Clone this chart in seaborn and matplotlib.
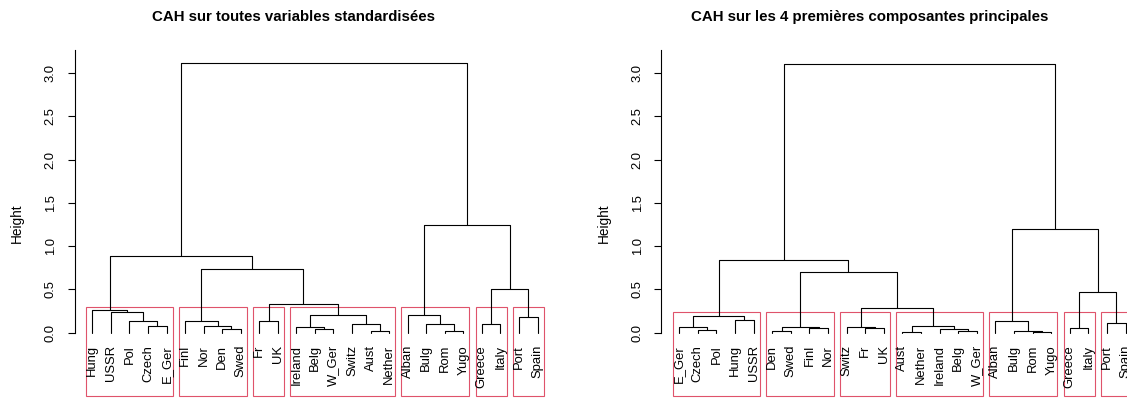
import matplotlib
matplotlib.use("Agg")
import matplotlib.pyplot as plt
import seaborn as sns
import pandas as pd
from matplotlib.patches import Rectangle

# ---------------- data ----------------
title_left = "CAH sur toutes variables standardisées"
title_right = "CAH sur les 4 premières composantes principales"
y_label = "Height"

leaves_left = ["Hung", "USSR", "Pol", "Czech", "E_Ger", "Finl", "Nor", "Den", "Swed",
               "Fr", "UK", "Ireland", "Belg", "W_Ger", "Switz", "Aust", "Nether",
               "Alban", "Bulg", "Rom", "Yugo", "Greece", "Italy", "Port", "Spain"]
# merges: child a, child b (leaf name or index of earlier merge), height
merge_a_left = ["Czech", "Pol", "USSR", "Hung", "Den", "Nor", "Finl", "Fr", "Belg", "Ireland",
                "Aust", "Switz", 9, 7, 6, 3, "Rom", "Bulg", "Alban", "Greece", "Port", 19, 18, 15]
merge_b_left = ["E_Ger", 0, 1, 2, "Swed", 4, 5, "UK", "W_Ger", 8,
                "Nether", 10, 11, 12, 13, 14, "Yugo", 16, 17, "Italy", "Spain", 20, 21, 22]
height_left = [0.077, 0.135, 0.235, 0.26, 0.043, 0.077, 0.135, 0.135, 0.043, 0.068,
               0.025, 0.10, 0.205, 0.33, 0.74, 0.89, 0.016, 0.097, 0.21, 0.097, 0.178,
               0.51, 1.245, 3.115]

leaves_right = ["E_Ger", "Czech", "Pol", "Hung", "USSR", "Den", "Swed", "Finl", "Nor",
                "Switz", "Fr", "UK", "Aust", "Nether", "Ireland", "Belg", "W_Ger",
                "Alban", "Bulg", "Rom", "Yugo", "Greece", "Italy", "Port", "Spain"]
merge_a_right = ["Czech", "E_Ger", "Hung", 1, "Den", "Finl", 4, "Fr", "Switz", "Aust",
                 "Belg", "Ireland", 9, 8, 6, 3, "Rom", "Bulg", "Alban", "Greece", "Port", 19, 18, 15]
merge_b_right = ["Pol", 0, "USSR", 2, "Swed", "Nor", 5, "UK", 7, "Nether",
                 "W_Ger", 10, 11, 12, 13, 14, "Yugo", 16, 17, "Italy", "Spain", 20, 21, 22]
height_right = [0.035, 0.062, 0.143, 0.19, 0.025, 0.05, 0.065, 0.05, 0.062, 0.008,
                0.02, 0.04, 0.077, 0.29, 0.70, 0.84, 0.012, 0.02, 0.135, 0.05, 0.108,
                0.465, 1.20, 3.11]

y_ticks = [0.0, 0.5, 1.0, 1.5, 2.0, 2.5, 3.0]
y_tick_labels = ["0.0", "0.5", "1.0", "1.5", "2.0", "2.5", "3.0"]
n_clusters = 7

# ---------------- style ----------------
sns.set_style("white")
plt.rcParams["font.family"] = ["Liberation Sans", "DejaVu Sans"]
plt.rcParams["text.color"] = "black"
plt.rcParams["axes.labelcolor"] = "black"
plt.rcParams["ytick.color"] = "black"

W, H = 1127, 398
fig = plt.figure(figsize=(W / 100, H / 100), dpi=100)
fig.patch.set_facecolor("white")

RECT_COLOR = "#DF536B"
Y_TOP = 3.268
Y_BOT = -0.732


def build(leaves, ma, mb, hh):
    pos = {name: i + 1 for i, name in enumerate(leaves)}
    nodes = []       # (x, h, leaf list)
    rows = []

    def child(c):
        if isinstance(c, str):
            return pos[c], 0.0, [c]
        return nodes[c]

    for i, (a, b, h) in enumerate(zip(ma, mb, hh)):
        xa, ya, la = child(a)
        xb, yb, lb = child(b)
        for k, (x, y) in enumerate([(xa, ya), (xa, h), (xb, h), (xb, yb)]):
            rows.append({"x": x, "y": y, "seg": i, "ord": k})
        nodes.append(((xa + xb) / 2, h, la + lb))
    return pd.DataFrame(rows), nodes, pos


def clusters(ma, mb, hh, nodes, pos, k):
    srt = sorted(hh)
    cut = (srt[-(k - 1)] + srt[-k]) / 2
    out = []
    for a, b, h in zip(ma, mb, hh):
        if h > cut:
            for c in (a, b):
                if isinstance(c, str):
                    out.append([c])
                elif nodes[c][1] < cut:
                    out.append(nodes[c][2])
    spans = [(min(pos[n] for n in g), max(pos[n] for n in g)) for g in out]
    return sorted(spans), cut


def draw(ax_rect, leaves, ma, mb, hh, title, title_x):
    ax = fig.add_axes(ax_rect)
    df, nodes, pos = build(leaves, ma, mb, hh)
    sns.lineplot(data=df, x="x", y="y", units="seg", estimator=None, sort=False,
                 color="black", linewidth=0.8, ax=ax, legend=False)
    n = len(leaves)
    ax.set_xlim(1 - 0.04 * (n - 1), n + 0.04 * (n - 1))
    ax.set_ylim(Y_BOT, Y_TOP)
    spans, cut = clusters(ma, mb, hh, nodes, pos, n_clusters)
    for lo, hi in spans:
        ax.add_patch(Rectangle((lo - 0.34, Y_BOT), (hi + 0.33) - (lo - 0.34), cut - Y_BOT,
                               fill=False, edgecolor=RECT_COLOR, linewidth=0.8, clip_on=False))
    for name, x in pos.items():
        ax.text(x, -0.142, name, rotation=90, ha="center", va="top", fontsize=9.4,
                color="black")
    for s in ["top", "right", "bottom"]:
        ax.spines[s].set_visible(False)
    ax.spines["left"].set_bounds(0, Y_TOP)
    ax.spines["left"].set_linewidth(0.8)
    ax.spines["left"].set_color("black")
    ax.set_xticks([])
    ax.set_yticks(y_ticks)
    ax.set_yticklabels(y_tick_labels, rotation=90, va="center", ha="right")
    ax.tick_params(axis="y", length=5.3, width=0.8, pad=7.5, labelsize=9.4,
                   colors="black", left=True)
    ax.set_xlabel("")
    ax.set_ylabel("")
    ax.patch.set_alpha(0)
    fig.text(title_x / W, 1 - 17 / H, title, ha="center", va="center",
             fontsize=10.8, fontweight="bold", color="black")
    # y label
    left_px = ax_rect[0] * W
    fig.text((left_px - 57.8) / W, 1 - 223 / H, y_label, rotation=90,
             ha="center", va="center", fontsize=9.8, color="black")
    return ax


n = len(leaves_left)
span = (n - 1) * 1.08
draw([74.5 / W, 2 / H, span * 18.55 / W, 346 / H], leaves_left, merge_a_left,
     merge_b_left, height_left, title_left, 294)
draw([661.4 / W, 2 / H, span * 18.6 / W, 346 / H], leaves_right, merge_a_right,
     merge_b_right, height_right, title_right, 870)

fig.savefig("out.png", dpi=100)
